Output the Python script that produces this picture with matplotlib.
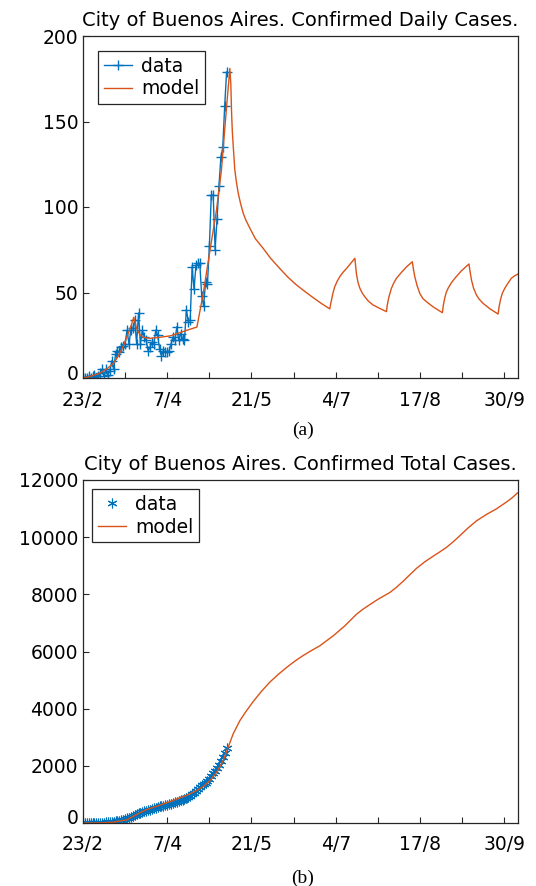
import numpy as np
import matplotlib
matplotlib.use("Agg")
from matplotlib import pyplot as plt
from matplotlib.transforms import ScaledTranslation

# days counted from 23/2
tick_days = [0, 22, 44, 66, 88, 110, 132, 154, 176, 198, 220]
tick_labels = ["23/2", "", "7/4", "", "21/5", "", "4/7", "", "17/8", "", "30/9"]

# daily confirmed cases (data), one value per day from day 0
daily_cases = [0, 0, 0, 1, 0, 1, 2, 0, 1, 3, 5, 1, 5, 2, 4, 10, 5, 14, 16, 15,
               18, 19, 20, 28, 20, 28, 29, 34, 20, 38, 20, 28, 24, 22, 16, 18, 21, 20, 28, 25,
               17, 13, 16, 15, 15, 16, 20, 24, 22, 30, 22, 26, 23, 22, 40, 33, 34, 65, 52, 66,
               67, 67, 48, 42, 56, 55, 77, 107, 107, 75, 93, 112, 129, 135, 159, 179]

# total confirmed cases (data)
total_cases = [0, 0, 0, 1, 1, 2, 4, 4, 5, 8, 13, 14, 19, 21, 25, 35, 40, 54, 70, 85,
               103, 122, 142, 170, 190, 218, 247, 281, 301, 339, 359, 387, 411, 433, 449, 467,
               488, 508, 536, 561, 578, 591, 607, 622, 637, 653, 673, 697, 719, 749, 771, 797,
               820, 842, 882, 915, 949, 1014, 1066, 1132, 1199, 1266, 1314, 1356, 1412, 1467,
               1544, 1651, 1758, 1833, 1926, 2038, 2167, 2302, 2461, 2640]

# model, daily cases
model_daily_t = [0, 1.9, 5.4, 8.9, 12.3, 15.8, 18.4, 21, 23.7, 25.4, 26.5, 28, 29.7, 31.5,
                 35, 40, 45.4, 50.6, 54, 59.5, 62.8, 65.8, 69.7, 72.3, 75, 76.7,
                 77.2, 77.6, 78, 78.5, 79.3, 80.2, 81.1, 82.3, 83.7, 85, 87.2, 90, 94.1, 98,
                 102.8, 107, 111.5, 116, 120.2, 124.5,
                 128.9, 129.3, 129.8, 130.5, 131.5, 132.7, 134.1, 135.8, 137.6, 139.8, 142,
                 142.4, 142.8, 143.6, 144.6, 145.8, 147.2, 149, 151.5, 155,
                 158.5, 158.9, 159.8, 161.1, 162.3, 163.7, 166.5, 169, 172,
                 172.6, 173.3, 174.5, 175.9, 177.5, 179.4, 183,
                 187.7, 188.2, 188.9, 189.7, 190.7, 192.3, 194.2, 197.5, 201.6,
                 202.2, 202.9, 204, 205.5, 207, 208.9, 212.5,
                 216.8, 217.3, 218, 219, 220.3, 222, 223.7, 225.5, 227.2]
model_daily = [0, 0.4, 1.5, 2.9, 5.2, 8.5, 12.8, 18.5, 26.3, 31.5, 35.5, 29, 25.3, 23.8,
               23.2, 23.8, 24.6, 26.5, 27.8, 29.8, 49.4, 71, 98, 121.6, 158.7, 181,
               172, 155, 144, 135, 121.6, 114, 108, 102, 96.3, 92.5, 87.5, 81.5, 75.8, 70,
               64, 59, 54.4, 50.5, 47, 43.6,
               40.4, 43, 45.6, 49.5, 53.4, 56.5, 59.2, 61.8, 64, 67, 70,
               65.5, 61, 56, 52.5, 49.8, 47.5, 45, 42.7, 40.7,
               38.8, 42.5, 47.5, 52.5, 55.5, 58.3, 62, 65, 68,
               63.5, 59.2, 54, 49.5, 46.5, 44.6, 41.5,
               38.2, 42.5, 46.6, 50, 52.5, 55.5, 58.3, 62.5, 66.7,
               62, 57.3, 52.5, 48.5, 46, 43.7, 40.5,
               37.4, 41.5, 45.6, 49.5, 52.5, 55.5, 58.3, 59.8, 60.8]

# model, total cases
model_total_t = [0, 10, 15.8, 22.8, 28, 33.2, 38.5, 44.5, 50.6, 55.8, 59.3, 62.8, 66.3,
                 69.8, 73.2, 75.8, 78.4, 81.9, 85, 88.9, 93, 97.6, 102, 106.3, 111, 115,
                 120, 123.7, 126.5, 130.6, 133.5, 136.7, 139.8, 142.8, 146, 149.8, 154.5,
                 160.2, 163.7, 167.2, 170.7, 174.2, 178.5, 182.8, 186.3, 189.8, 193.3,
                 196.8, 201, 205.5, 210.5, 215.9, 221.1, 224, 226.9]
model_total = [0, 5, 28, 110, 297, 471, 587, 727, 880, 1019, 1134, 1274, 1483,
               1774, 2181, 2646, 3113, 3578, 3890, 4250, 4590, 4930, 5200, 5440, 5680, 5860,
               6060, 6200, 6340, 6545, 6710, 6894, 7100, 7300, 7470, 7640, 7845,
               8060, 8245, 8458, 8685, 8910, 9137, 9330, 9482, 9640, 9835,
               10050, 10315, 10570, 10785, 10990, 11225, 11370, 11546]

blue = "#0072BD"
orange = "#D95319"
axcol = "#262626"
fs = 13.5

W, H = 536, 886
fig = plt.figure(figsize=(W / 100, H / 100), dpi=100)
ax1 = fig.add_axes([83 / W, 1 - 378 / H, 435 / W, 342 / H])
ax2 = fig.add_axes([83 / W, 1 - 823 / H, 435 / W, 343 / H])


def style(ax, yticks):
    ax.set_xlim(0, 227.2)
    ax.set_xticks(tick_days)
    ax.set_xticklabels(tick_labels)
    ax.set_yticks(yticks)
    ax.set_yticklabels([str(v) for v in yticks])
    ax.tick_params(direction="in", length=4, width=0.8, colors=axcol,
                   labelsize=fs, labelcolor="black", top=False, right=False)
    ax.tick_params(axis="x", pad=9)
    for s in ax.spines.values():
        s.set_color(axcol)
        s.set_linewidth(0.9)
    # Octave lifts the "0" label a bit
    lab = ax.get_yticklabels()[0]
    lab.set_transform(lab.get_transform() + ScaledTranslation(0, 6 / 100, fig.dpi_scale_trans))


days = np.arange(len(daily_cases))

ax1.plot(days, daily_cases, "-+", color=blue, lw=1.0, ms=7, mew=1.0, label="data")
ax1.plot(model_daily_t, model_daily, "-", color=orange, lw=1.0, label="model")
ax1.set_ylim(0, 200)
style(ax1, [0, 50, 100, 150, 200])
ax1.set_title("City of Buenos Aires. Confirmed Daily Cases.", fontsize=14, pad=7)
leg = ax1.legend(loc="upper left", fontsize=fs, fancybox=False, framealpha=1,
                 edgecolor=axcol, handlelength=1.5, borderaxespad=0.8,
                 handletextpad=0.5, borderpad=0.3, labelspacing=0.2)
leg.get_frame().set_linewidth(0.9)

ax2.plot(np.arange(len(total_cases)), total_cases, ls="none", marker=(6, 2, 0),
         color=blue, ms=7, mew=0.8, label="data")
ax2.plot(model_total_t, model_total, "-", color=orange, lw=1.0, label="model")
ax2.set_ylim(0, 12000)
style(ax2, [0, 2000, 4000, 6000, 8000, 10000, 12000])
ax2.set_title("City of Buenos Aires. Confirmed Total Cases.", fontsize=14, pad=7)
leg = ax2.legend(loc="upper left", fontsize=fs, fancybox=False, framealpha=1,
                 edgecolor=axcol, handlelength=1.5, borderaxespad=0.5,
                 handletextpad=0.5, borderpad=0.3, labelspacing=0.2)
leg.get_frame().set_linewidth(0.9)

fig.text(303 / W, 1 - 430 / H, "(a)", ha="center", va="center",
         family="Liberation Serif", fontsize=14)
fig.text(303 / W, 1 - 878 / H, "(b)", ha="center", va="center",
         family="Liberation Serif", fontsize=14)

fig.savefig("out.png", dpi=100)
